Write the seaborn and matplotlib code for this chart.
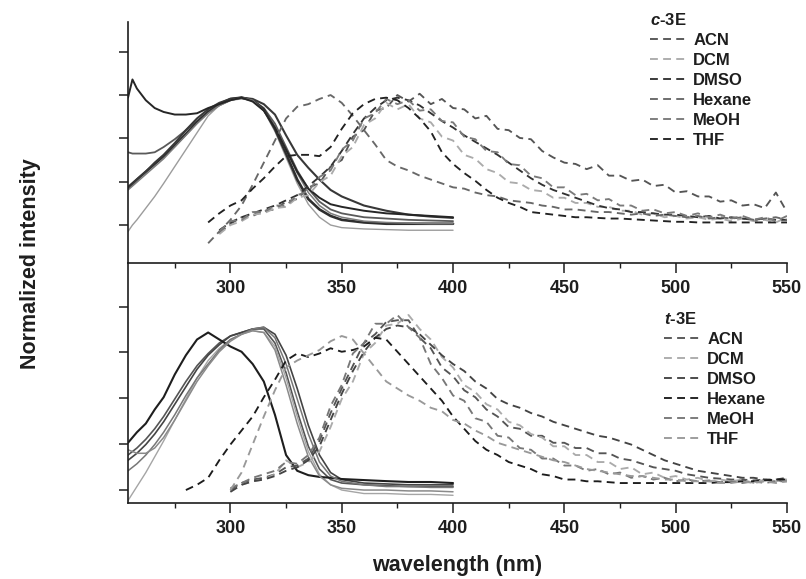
import numpy as np
import pandas as pd
import matplotlib
matplotlib.use("Agg")
import matplotlib.pyplot as plt
import seaborn as sns
from matplotlib.lines import Line2D
from matplotlib.ticker import MultipleLocator, FixedLocator

# ---------------------------------------------------------------- data
SOLVENTS = ["ACN", "DCM", "DMSO", "Hexane", "MeOH", "THF"]

# absorption wavelengths (nm)
ABS_WL = [254, 256, 258, 262, 266, 270, 275, 280, 285, 290, 295, 300, 305,
          310, 315, 320, 325, 330, 335, 340, 345, 350, 360, 370, 380, 390, 400]
# emission wavelengths (nm), 5 nm steps from 280 to 550
EM_WL = np.arange(280, 551, 5)
nan = np.nan

# ---- c-3E absorption (normalized)
c_abs_acn = [0.56, 0.55, 0.55, 0.55, 0.56, 0.60, 0.66, 0.73, 0.80, 0.87, 0.92, 0.96, 0.98,
             0.96, 0.90, 0.78, 0.60, 0.42, 0.28, 0.18, 0.12, 0.09, 0.06, 0.05, 0.04, 0.035, 0.03]
c_abs_dcm = [-0.05, 0.00, 0.04, 0.13, 0.22, 0.32, 0.45, 0.58, 0.71, 0.84, 0.92, 0.96, 0.97,
             0.96, 0.88, 0.72, 0.52, 0.32, 0.16, 0.06, 0.00, -0.02, -0.03, -0.035, -0.04, -0.04, -0.04]
c_abs_dmso = [0.29, 0.32, 0.35, 0.41, 0.47, 0.53, 0.61, 0.70, 0.79, 0.87, 0.93, 0.97, 0.98,
              0.96, 0.89, 0.74, 0.55, 0.35, 0.20, 0.12, 0.07, 0.04, 0.02, 0.01, 0.01, 0.01, 0.01]
c_abs_hexane = [0.28, 0.31, 0.35, 0.41, 0.48, 0.54, 0.63, 0.73, 0.82, 0.89, 0.94, 0.97, 0.98,
                0.97, 0.93, 0.85, 0.69, 0.54, 0.44, 0.35, 0.27, 0.22, 0.15, 0.11, 0.08, 0.065, 0.055]
c_abs_meoh = [0.27, 0.30, 0.33, 0.39, 0.45, 0.51, 0.60, 0.69, 0.78, 0.86, 0.92, 0.96, 0.98,
              0.96, 0.88, 0.76, 0.58, 0.40, 0.25, 0.15, 0.09, 0.06, 0.03, 0.02, 0.015, 0.01, 0.01]
c_abs_thf = [0.98, 1.12, 1.05, 0.96, 0.90, 0.87, 0.85, 0.85, 0.86, 0.90, 0.93, 0.96, 0.98,
             0.95, 0.88, 0.75, 0.58, 0.41, 0.28, 0.21, 0.16, 0.14, 0.11, 0.09, 0.08, 0.07, 0.06]

# ---- c-3E emission (normalized)
c_em_acn = [nan, nan, nan, -0.06, 0.01, 0.06, 0.07, 0.11, 0.12, 0.18,
            0.20, 0.29, 0.32, 0.45, 0.50, 0.68, 0.73, 0.88, 0.90, 1.00,
            0.95, 1.01, 0.93, 0.97, 0.90, 0.89, 0.82, 0.84, 0.74, 0.73,
            0.67, 0.66, 0.57, 0.52, 0.48, 0.47, 0.43, 0.46, 0.38, 0.38,
            0.34, 0.35, 0.30, 0.31, 0.25, 0.26, 0.22, 0.22, 0.18, 0.19,
            0.15, 0.16, 0.13, 0.25, 0.10]
c_em_dcm = [nan, nan, nan, -0.07, 0.00, 0.03, 0.08, 0.09, 0.13, 0.14,
            0.21, 0.23, 0.33, 0.38, 0.53, 0.60, 0.77, 0.82, 0.94, 0.89,
            0.93, 0.82, 0.79, 0.68, 0.65, 0.54, 0.51, 0.43, 0.40, 0.33,
            0.32, 0.27, 0.26, 0.21, 0.21, 0.17, 0.17, 0.14, 0.14, 0.11,
            0.11, 0.08, 0.09, 0.06, 0.07, 0.05, 0.06, 0.04, 0.05, 0.03,
            0.05, 0.03, 0.04, 0.02, 0.06]
c_em_dmso = [nan, nan, nan, -0.04, 0.02, 0.06, 0.09, 0.12, 0.15, 0.19,
             0.23, 0.30, 0.37, 0.45, 0.57, 0.70, 0.82, 0.90, 0.96, 0.98,
             0.96, 0.92, 0.86, 0.80, 0.75, 0.69, 0.64, 0.59, 0.54, 0.48,
             0.42, 0.36, 0.31, 0.27, 0.24, 0.21, 0.18, 0.15, 0.13, 0.12,
             0.10, 0.10, 0.09, 0.08, 0.08, 0.07, 0.06, 0.07, 0.05, 0.06,
             0.05, 0.04, 0.05, 0.04, 0.04]
c_em_hexane = [nan, nan, -0.14, -0.05, 0.04, 0.15, 0.31, 0.48, 0.65, 0.82,
               0.91, 0.93, 0.97, 1.00, 0.94, 0.84, 0.73, 0.62, 0.50, 0.45,
               0.42, 0.38, 0.35, 0.32, 0.29, 0.28, 0.25, 0.23, 0.22, 0.19,
               0.18, 0.17, 0.15, 0.14, 0.12, 0.12, 0.11, 0.10, 0.10, 0.09,
               0.08, 0.09, 0.07, 0.08, 0.07, 0.06, 0.07, 0.05, 0.06, 0.05,
               0.06, 0.04, 0.05, 0.06, 0.04]
c_em_meoh = [nan, nan, nan, -0.05, 0.03, 0.04, 0.10, 0.10, 0.15, 0.15,
             0.23, 0.26, 0.37, 0.42, 0.58, 0.65, 0.82, 0.86, 0.97, 0.93,
             0.96, 0.88, 0.89, 0.80, 0.79, 0.68, 0.66, 0.57, 0.56, 0.47,
             0.46, 0.38, 0.36, 0.29, 0.29, 0.23, 0.24, 0.19, 0.20, 0.15,
             0.15, 0.11, 0.12, 0.09, 0.10, 0.07, 0.09, 0.06, 0.08, 0.05,
             0.07, 0.04, 0.06, 0.03, 0.07]
c_em_thf = [nan, nan, 0.02, 0.09, 0.15, 0.19, 0.28, 0.36, 0.45, 0.53,
            0.54, 0.54, 0.53, 0.60, 0.74, 0.86, 0.93, 0.97, 0.98, 0.96,
            0.90, 0.82, 0.72, 0.56, 0.47, 0.40, 0.34, 0.27, 0.21, 0.17,
            0.14, 0.10, 0.09, 0.08, 0.07, 0.06, 0.06, 0.055, 0.05, 0.05,
            0.045, 0.04, 0.035, 0.03, 0.025, 0.025, 0.02, 0.02, 0.02, 0.02,
            0.02, 0.02, 0.02, 0.02, 0.02]

# ---- t-3E absorption (normalized)
t_abs_acn = [0.20, 0.22, 0.24, 0.29, 0.35, 0.42, 0.52, 0.62, 0.71, 0.78, 0.84, 0.88, 0.90,
             0.92, 0.92, 0.84, 0.67, 0.45, 0.25, 0.12, 0.06, 0.04, 0.03, 0.025, 0.02, 0.02, 0.02]
t_abs_dcm = [-0.06, -0.02, 0.02, 0.10, 0.19, 0.28, 0.40, 0.52, 0.64, 0.74, 0.81, 0.86, 0.89,
             0.91, 0.90, 0.82, 0.64, 0.42, 0.22, 0.09, 0.03, 0.00, -0.02, -0.02, -0.025, -0.025, -0.03]
t_abs_dmso = [0.17, 0.19, 0.21, 0.26, 0.32, 0.39, 0.49, 0.59, 0.69, 0.77, 0.83, 0.88, 0.90,
              0.92, 0.93, 0.89, 0.77, 0.58, 0.37, 0.20, 0.10, 0.06, 0.04, 0.035, 0.03, 0.03, 0.03]
t_abs_hexane = [0.27, 0.30, 0.33, 0.38, 0.46, 0.53, 0.66, 0.77, 0.86, 0.90, 0.86, 0.82, 0.79,
                0.72, 0.62, 0.43, 0.20, 0.11, 0.085, 0.075, 0.07, 0.063, 0.057, 0.051, 0.046, 0.046, 0.04]
t_abs_meoh = [0.11, 0.13, 0.15, 0.20, 0.26, 0.33, 0.43, 0.54, 0.64, 0.72, 0.80, 0.86, 0.89,
              0.92, 0.93, 0.87, 0.72, 0.52, 0.32, 0.16, 0.08, 0.05, 0.03, 0.02, 0.02, 0.015, 0.015]
t_abs_thf = [0.23, 0.22, 0.21, 0.21, 0.24, 0.30, 0.40, 0.51, 0.62, 0.71, 0.79, 0.85, 0.89,
             0.91, 0.90, 0.80, 0.60, 0.38, 0.19, 0.08, 0.03, 0.01, 0.00, 0.00, -0.005, -0.005, -0.01]

# ---- t-3E emission (normalized)
t_em_acn = [nan, nan, nan, nan, 0.00, 0.04, 0.06, 0.07, 0.09, 0.13,
            0.14, 0.18, 0.28, 0.44, 0.58, 0.71, 0.84, 0.89, 0.96, 0.97,
            0.97, 0.87, 0.81, 0.70, 0.65, 0.57, 0.53, 0.46, 0.42, 0.36,
            0.35, 0.31, 0.31, 0.27, 0.27, 0.24, 0.24, 0.21, 0.21, 0.18,
            0.17, 0.15, 0.13, 0.12, 0.11, 0.09, 0.08, 0.07, 0.065, 0.06,
            0.06, 0.055, 0.06, 0.05, 0.06]
t_em_dcm = [nan, nan, nan, nan, -0.01, 0.03, 0.05, 0.06, 0.09, 0.17,
            0.13, 0.16, 0.22, 0.36, 0.52, 0.62, 0.78, 0.84, 0.94, 0.95,
            1.00, 0.92, 0.86, 0.76, 0.70, 0.60, 0.56, 0.49, 0.46, 0.39,
            0.37, 0.32, 0.30, 0.25, 0.25, 0.20, 0.20, 0.16, 0.16, 0.12,
            0.13, 0.09, 0.10, 0.07, 0.08, 0.06, 0.07, 0.05, 0.06, 0.05,
            0.06, 0.04, 0.06, 0.05, 0.06]
t_em_dmso = [nan, nan, nan, nan, -0.01, 0.03, 0.05, 0.06, 0.08, 0.11,
             0.13, 0.17, 0.25, 0.40, 0.55, 0.68, 0.79, 0.87, 0.92, 0.94,
             0.93, 0.89, 0.83, 0.77, 0.72, 0.68, 0.62, 0.58, 0.52, 0.49,
             0.47, 0.44, 0.42, 0.39, 0.37, 0.35, 0.33, 0.31, 0.30, 0.28,
             0.26, 0.23, 0.20, 0.17, 0.15, 0.13, 0.11, 0.10, 0.09, 0.08,
             0.07, 0.07, 0.06, 0.06, 0.07]
t_em_hexane = [0.00, 0.03, 0.07, 0.17, 0.26, 0.34, 0.42, 0.53, 0.63, 0.74,
               0.78, 0.76, 0.78, 0.81, 0.79, 0.80, 0.82, 0.87, 0.86, 0.79,
               0.72, 0.65, 0.58, 0.51, 0.42, 0.35, 0.28, 0.23, 0.20, 0.16,
               0.14, 0.12, 0.09, 0.08, 0.06, 0.06, 0.05, 0.05, 0.045, 0.04,
               0.04, 0.04, 0.04, 0.04, 0.04, 0.04, 0.04, 0.04, 0.045, 0.045,
               0.05, 0.05, 0.055, 0.06, 0.06]
t_em_meoh = [nan, nan, nan, nan, 0.01, 0.04, 0.07, 0.09, 0.11, 0.16,
             0.15, 0.20, 0.30, 0.48, 0.60, 0.78, 0.84, 0.95, 0.95, 1.00,
             0.93, 0.87, 0.72, 0.64, 0.54, 0.51, 0.41, 0.39, 0.31, 0.30,
             0.24, 0.23, 0.18, 0.18, 0.14, 0.14, 0.11, 0.12, 0.09, 0.10,
             0.07, 0.08, 0.06, 0.07, 0.05, 0.06, 0.05, 0.055, 0.045, 0.05,
             0.04, 0.05, 0.04, 0.05, 0.05]
t_em_thf = [nan, nan, nan, nan, 0.00, 0.10, 0.26, 0.42, 0.57, 0.70,
            0.74, 0.77, 0.80, 0.85, 0.88, 0.86, 0.78, 0.70, 0.62, 0.58,
            0.54, 0.51, 0.47, 0.45, 0.40, 0.38, 0.34, 0.31, 0.27, 0.25,
            0.23, 0.21, 0.19, 0.17, 0.16, 0.14, 0.12, 0.11, 0.10, 0.09,
            0.08, 0.08, 0.07, 0.06, 0.06, 0.05, 0.05, 0.05, 0.04, 0.04,
            0.05, 0.04, 0.05, 0.04, 0.05]

X_TICKS = [300, 350, 400, 450, 500, 550]

# ---------------------------------------------------------------- style
sns.set_theme(style="ticks")
plt.rcParams["font.family"] = ["Liberation Sans", "DejaVu Sans"]
plt.rcParams["font.weight"] = "bold"
plt.rcParams["mathtext.fontset"] = "custom"
plt.rcParams["mathtext.rm"] = "Liberation Sans:bold"
plt.rcParams["mathtext.it"] = "Liberation Sans:italic:bold"
plt.rcParams["axes.edgecolor"] = "#1e1e1e"
plt.rcParams["xtick.color"] = "#1e1e1e"
plt.rcParams["ytick.color"] = "#1e1e1e"
plt.rcParams["text.color"] = "#1e1e1e"

DASH = (0, (4.2, 2.8))

panels = [
    dict(
        label=r"$\it{c}$-3E",
        absorption={"ACN": c_abs_acn, "DCM": c_abs_dcm, "DMSO": c_abs_dmso,
                    "Hexane": c_abs_hexane, "MeOH": c_abs_meoh, "THF": c_abs_thf},
        emission={"ACN": c_em_acn, "DCM": c_em_dcm, "DMSO": c_em_dmso,
                  "Hexane": c_em_hexane, "MeOH": c_em_meoh, "THF": c_em_thf},
        abs_colors={"ACN": "#5a5a5a", "DCM": "#9c9c9c", "DMSO": "#2e2e2e",
                    "Hexane": "#383838", "MeOH": "#7c7c7c", "THF": "#262626"},
        abs_widths={"ACN": 1.3, "DCM": 1.0, "DMSO": 1.9, "Hexane": 1.5,
                    "MeOH": 1.1, "THF": 1.4},
        em_colors={"ACN": "#555555", "DCM": "#ababab", "DMSO": "#333333",
                   "Hexane": "#686868", "MeOH": "#7a7a7a", "THF": "#222222"},
        ylim=(-0.292, 1.562), ystep=1 / 3,
        legend_anchor=(650 / 806, 1 - 12 / 579),
    ),
    dict(
        label=r"$\it{t}$-3E",
        absorption={"ACN": t_abs_acn, "DCM": t_abs_dcm, "DMSO": t_abs_dmso,
                    "Hexane": t_abs_hexane, "MeOH": t_abs_meoh, "THF": t_abs_thf},
        emission={"ACN": t_em_acn, "DCM": t_em_dcm, "DMSO": t_em_dmso,
                  "Hexane": t_em_hexane, "MeOH": t_em_meoh, "THF": t_em_thf},
        abs_colors={"ACN": "#555555", "DCM": "#a5a5a5", "DMSO": "#444444",
                    "Hexane": "#1e1e1e", "MeOH": "#777777", "THF": "#8a8a8a"},
        abs_widths={"ACN": 1.2, "DCM": 1.0, "DMSO": 1.2, "Hexane": 1.5,
                    "MeOH": 1.1, "THF": 1.1},
        em_colors={"ACN": "#555555", "DCM": "#ababab", "DMSO": "#444444",
                   "Hexane": "#1c1c1c", "MeOH": "#777777", "THF": "#999999"},
        ylim=(-0.074, 1.297), ystep=0.262,
        legend_anchor=(664 / 806, 1 - 311 / 579),
    ),
]

# ---------------------------------------------------------------- figure
fig = plt.figure(figsize=(8.06, 5.79), dpi=100)
fig.patch.set_facecolor("white")
left, width = 128 / 806, (787 - 128) / 806
ax_top = fig.add_axes([left, 1 - 263 / 579, width, 241 / 579])
ax_bot = fig.add_axes([left, 1 - 503 / 579, width, 240 / 579])
ax_top.set_zorder(3)
axes = [ax_top, ax_bot]

for ax, p in zip(axes, panels):
    ax.set_facecolor("none")
    for s in SOLVENTS:
        df = pd.DataFrame({"wavelength": ABS_WL, "intensity": p["absorption"][s]})
        sns.lineplot(data=df, x="wavelength", y="intensity", ax=ax,
                     color=p["abs_colors"][s], lw=p["abs_widths"][s],
                     estimator=None, legend=False)
    for s in SOLVENTS:
        df = pd.DataFrame({"wavelength": EM_WL, "intensity": p["emission"][s]})
        sns.lineplot(data=df, x="wavelength", y="intensity", ax=ax,
                     color=p["em_colors"][s], lw=1.35, linestyle=DASH,
                     estimator=None, legend=False)

    ax.set_xlim(254, 550)
    ax.set_ylim(*p["ylim"])
    ax.set_xlabel("")
    ax.set_ylabel("")
    ax.xaxis.set_major_locator(FixedLocator(X_TICKS))
    ax.xaxis.set_minor_locator(MultipleLocator(25))
    ax.yaxis.set_major_locator(MultipleLocator(p["ystep"]))
    ax.tick_params(axis="x", which="major", direction="out", length=7,
                   width=1.1, labelsize=13, pad=5)
    ax.tick_params(axis="x", which="minor", direction="out", length=3.5, width=1.0)
    ax.tick_params(axis="y", which="major", direction="out", length=6.5,
                   width=1.1, labelleft=False)
    for side in ("top", "right"):
        ax.spines[side].set_visible(False)
    for side in ("left", "bottom"):
        ax.spines[side].set_linewidth(1.2)

    handles = [Line2D([], [], color=p["em_colors"][s], lw=1.35, linestyle=DASH)
               for s in SOLVENTS]
    ax.legend(handles, SOLVENTS, title=p["label"], loc="upper left",
              bbox_to_anchor=p["legend_anchor"], bbox_transform=fig.transFigure,
              frameon=False, borderpad=0, borderaxespad=0, handlelength=2.3,
              handletextpad=0.3, labelspacing=0.3, alignment="left",
              prop={"size": 12, "weight": "bold"},
              title_fontproperties={"size": 12, "weight": "bold"})

fig.text(457 / 806, 1 - 565 / 579, "wavelength (nm)", ha="center", va="center",
         fontsize=15.5, fontweight="bold")
fig.text(31 / 806, 1 - 264 / 579, "Normalized intensity", ha="center", va="center",
         rotation=90, fontsize=15.5, fontweight="bold")

fig.savefig("out.png", dpi=100, facecolor="white")
